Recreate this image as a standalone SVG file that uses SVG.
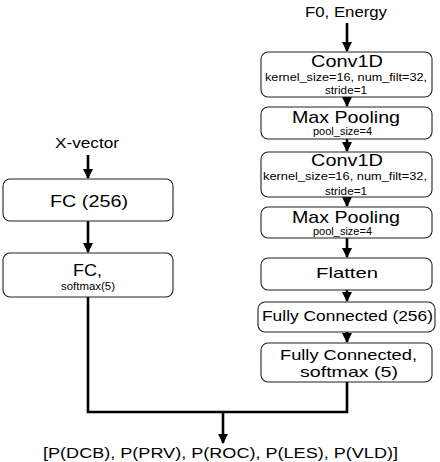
<svg xmlns="http://www.w3.org/2000/svg" width="440" height="462" viewBox="0 0 440 462">
<defs>
<marker id="ah" viewBox="0 0 10 10" refX="9" refY="5" markerWidth="4" markerHeight="4" markerUnits="strokeWidth" orient="auto">
<path d="M0,0 L10,5 L0,10 Z" fill="#000"/>
</marker>
<style>
text{font-family:"Liberation Sans",Arial,sans-serif;fill:#000;text-anchor:middle}
.box{fill:#fff;stroke:#222;stroke-width:1.1}
.big{font-size:17px}
.mid{font-size:14.5px}
.sm{font-size:10px}
.lbl{font-size:14px}
.ln{fill:none;stroke:#000;stroke-width:2.6}
</style>
</defs>
<rect width="440" height="462" fill="#fff"/>
<g id="connectors">
<line class="ln" x1="347" y1="23" x2="347" y2="51" marker-end="url(#ah)"/>
<line class="ln" x1="347" y1="97" x2="347" y2="106" marker-end="url(#ah)"/>
<line class="ln" x1="347" y1="139" x2="347" y2="151" marker-end="url(#ah)"/>
<line class="ln" x1="347" y1="197" x2="347" y2="206" marker-end="url(#ah)"/>
<line class="ln" x1="347" y1="238" x2="347" y2="257" marker-end="url(#ah)"/>
<line class="ln" x1="347" y1="290" x2="347" y2="301" marker-end="url(#ah)"/>
<line class="ln" x1="347" y1="332" x2="347" y2="342" marker-end="url(#ah)"/>
<line class="ln" x1="88" y1="155" x2="88" y2="178" marker-end="url(#ah)"/>
<line class="ln" x1="88" y1="221" x2="88" y2="252" marker-end="url(#ah)"/>
<polyline class="ln" points="88,297 88,412 347,412 347,382"/>
<line class="ln" x1="223" y1="412" x2="223" y2="443" marker-end="url(#ah)"/>
</g>
<g id="in-f0">
<text class="lbl" x="346" y="17" textLength="82" lengthAdjust="spacingAndGlyphs">F0, Energy</text>
</g>
<g id="in-xvec">
<text class="lbl" x="87" y="148" textLength="64" lengthAdjust="spacingAndGlyphs">X-vector</text>
</g>
<g id="conv1">
<rect class="box" x="261" y="52" width="171" height="45" rx="7"/>
<text class="big" x="347" y="67" textLength="72" lengthAdjust="spacingAndGlyphs">Conv1D</text>
<text class="sm" x="346" y="80.5" textLength="162" lengthAdjust="spacingAndGlyphs">kernel_size=16, num_filt=32,</text>
<text class="sm" x="346" y="94" textLength="42" lengthAdjust="spacingAndGlyphs">stride=1</text>
</g>
<g id="pool1">
<rect class="box" x="261" y="107" width="171" height="32" rx="7"/>
<text class="big" x="346" y="123" textLength="108" lengthAdjust="spacingAndGlyphs">Max Pooling</text>
<text class="sm" x="342.5" y="135" textLength="59" lengthAdjust="spacingAndGlyphs">pool_size=4</text>
</g>
<g id="conv2">
<rect class="box" x="261" y="152" width="171" height="45" rx="7"/>
<text class="big" x="347" y="166" textLength="72" lengthAdjust="spacingAndGlyphs">Conv1D</text>
<text class="sm" x="345" y="180" textLength="164" lengthAdjust="spacingAndGlyphs">kernel_size=16, num_filt=32,</text>
<text class="sm" x="346" y="195" textLength="42" lengthAdjust="spacingAndGlyphs">stride=1</text>
</g>
<g id="pool2">
<rect class="box" x="261" y="207" width="171" height="31" rx="7"/>
<text class="big" x="346" y="223" textLength="108" lengthAdjust="spacingAndGlyphs">Max Pooling</text>
<text class="sm" x="342.5" y="235" textLength="59" lengthAdjust="spacingAndGlyphs">pool_size=4</text>
</g>
<g id="flatten">
<rect class="box" x="261" y="258" width="171" height="32" rx="7"/>
<text class="mid" x="347" y="278" textLength="62" lengthAdjust="spacingAndGlyphs">Flatten</text>
</g>
<g id="fc256-r">
<rect class="box" x="258" y="302" width="177" height="30" rx="7"/>
<text class="mid" x="347.5" y="321" textLength="171" lengthAdjust="spacingAndGlyphs">Fully Connected (256)</text>
</g>
<g id="fc-soft-r">
<rect class="box" x="261" y="343" width="171" height="39" rx="7"/>
<text class="mid" x="348.5" y="360" textLength="137" lengthAdjust="spacingAndGlyphs">Fully Connected,</text>
<text class="mid" x="349" y="377" textLength="98" lengthAdjust="spacingAndGlyphs">softmax (5)</text>
</g>
<g id="fc256-l">
<rect class="box" x="3" y="179" width="170" height="42" rx="7"/>
<text class="big" x="89" y="207" textLength="78" lengthAdjust="spacingAndGlyphs">FC (256)</text>
</g>
<g id="fc-soft-l">
<rect class="box" x="3" y="253" width="170" height="44" rx="7"/>
<text class="big" x="87.5" y="276" textLength="29" lengthAdjust="spacingAndGlyphs">FC,</text>
<text class="sm" x="88" y="290" textLength="54" lengthAdjust="spacingAndGlyphs">softmax(5)</text>
</g>
<g id="output">
<text x="220.5" y="458" style="font-size:14px" textLength="355" lengthAdjust="spacingAndGlyphs">[P(DCB), P(PRV), P(ROC), P(LES), P(VLD)]</text>
</g>
</svg>
